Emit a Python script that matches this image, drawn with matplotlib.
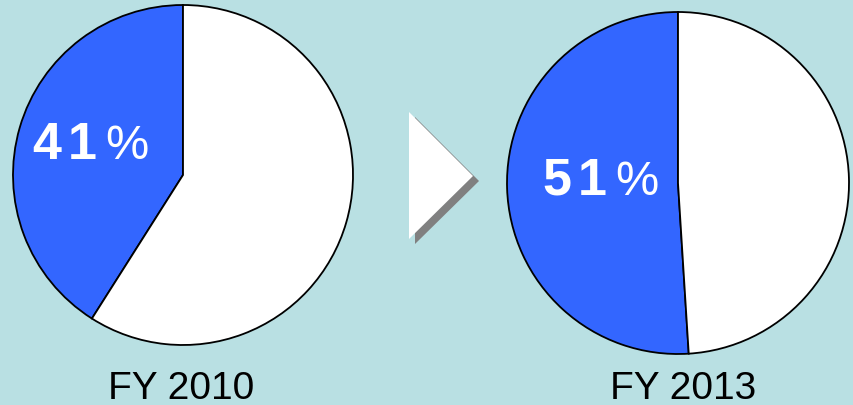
import matplotlib
matplotlib.use("Agg")
import matplotlib.pyplot as plt
from matplotlib.patches import Polygon

labels = ["FY 2010", "FY 2013"]
shares = [41, 51]

W, H = 854, 406
bg = "#b9e0e3"
blue = "#3366ff"

fig = plt.figure(figsize=(W / 100, H / 100), dpi=100, facecolor=bg)
ax = fig.add_axes([0, 0, 1, 1])

centers = [(183, H - 176), (678, H - 184)]
radii = [170, 171]
# left edge x and baseline y of the percent text (pixels from top-left)
text_anchor = [(32, 159), (542, 195)]
label_pos = [(181, H - 389), (683, H - 389)]

for s, c, r, ta, lp, lab in zip(shares, centers, radii, text_anchor, label_pos, labels):
    ax.pie([s, 100 - s], colors=[blue, "white"], startangle=90, counterclock=True,
           center=c, radius=r, frame=True,
           wedgeprops=dict(edgecolor="black", linewidth=1.3))
    digits = str(s)
    x0, yb = ta
    offsets = [15, 50]
    for ch, off in zip(digits, offsets):
        ax.text(x0 + off, H - yb, ch, color="white", fontsize=37.5, fontweight="bold",
                family="Liberation Sans", ha="center", va="baseline")
    ax.text(x0 + 95, H - yb, "%", color="white", fontsize=35, fontweight="normal",
            family="Liberation Sans", ha="center", va="baseline")
    ax.text(lp[0], lp[1], lab, color="black", fontsize=28,
            family="Liberation Sans", ha="center", va="center")

ax.set_xlim(0, W)
ax.set_ylim(0, H)
ax.set_aspect("equal")
ax.axis("off")

# arrow with shadow
tri = [(409, 113), (473, 177), (409, 240)]
shadow = [(x + 6, y + 5) for x, y in tri]
ax.add_patch(Polygon([(x, H - y) for x, y in shadow], closed=True, facecolor="#808080", edgecolor="none"))
ax.add_patch(Polygon([(x, H - y) for x, y in tri], closed=True, facecolor="white", edgecolor="none"))

fig.savefig("out.png", dpi=100, facecolor=bg)
